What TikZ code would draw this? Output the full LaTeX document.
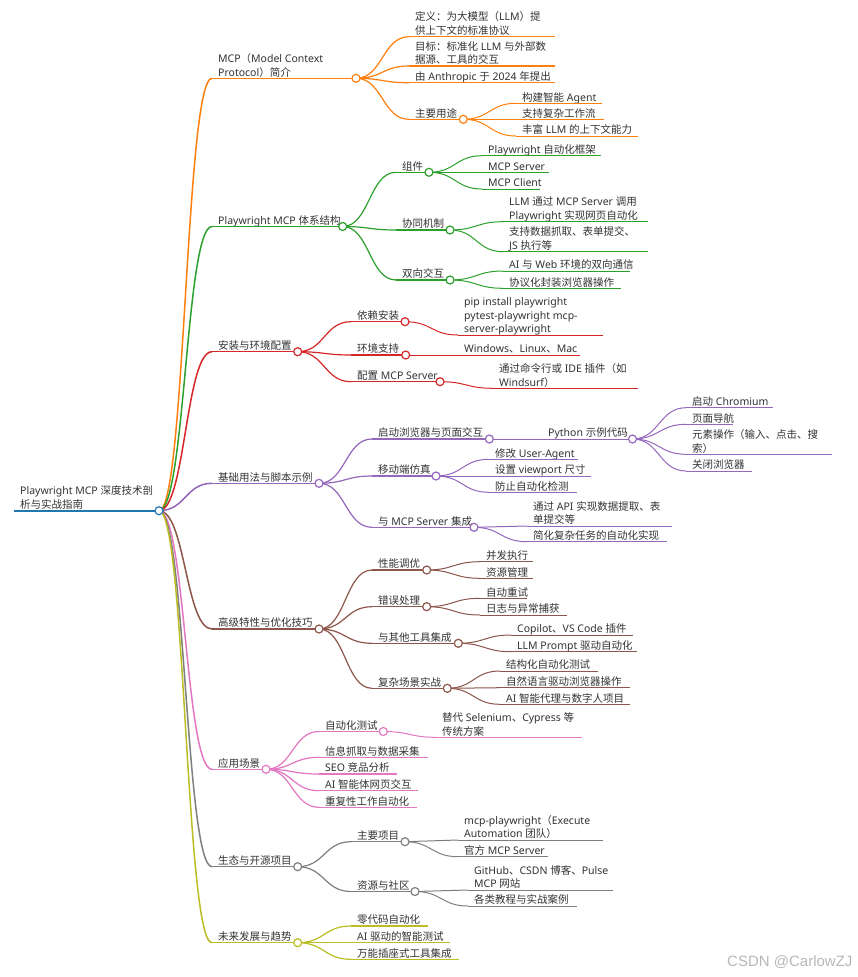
\documentclass[tikz,border=0pt]{standalone}
\usepackage{fontspec}
\setmainfont{Noto Sans}
\newfontfamily\cjkfont{Noto Sans CJK SC}
\newfontfamily\wmfont{Liberation Sans}
\XeTeXinterchartokenstate=1
\newXeTeXintercharclass\cjkcls
\newcount\cjkc
\cjkc="3000 \loop\XeTeXcharclass\cjkc=\cjkcls\advance\cjkc by 1 \ifnum\cjkc<"3040 \repeat
\cjkc="4E00 \loop\XeTeXcharclass\cjkc=\cjkcls\advance\cjkc by 1 \ifnum\cjkc<"A000 \repeat
\cjkc="FF00 \loop\XeTeXcharclass\cjkc=\cjkcls\advance\cjkc by 1 \ifnum\cjkc<"FFF0 \repeat
\XeTeXinterchartoks 0 \cjkcls = {\begingroup\cjkfont}
\XeTeXinterchartoks 4095 \cjkcls = {\begingroup\cjkfont}
\XeTeXinterchartoks \cjkcls 0 = {\endgroup}
\XeTeXinterchartoks \cjkcls 4095 = {\endgroup}
\usetikzlibrary{calc}
\definecolor{cB}{HTML}{1F77B4}
\definecolor{cO}{HTML}{FF7F0E}
\definecolor{cG}{HTML}{2CA02C}
\definecolor{cR}{HTML}{D62728}
\definecolor{cP}{HTML}{9467BD}
\definecolor{cN}{HTML}{8C564B}
\definecolor{cK}{HTML}{E377C2}
\definecolor{cY}{HTML}{7F7F7F}
\definecolor{cL}{HTML}{BCBD22}
\definecolor{tx}{HTML}{333333}
\definecolor{wm}{HTML}{B8B8B8}
\newcommand\mmf{\fontsize{10.5}{13.7}\selectfont}
\tikzset{
  txt/.style={anchor=south west, inner sep=0pt, align=left, text=tx, font=\mmf,
    execute at end node={\rule[-3.5pt]{0pt}{0pt}}},
  w0/.style={line width=1.8pt},
  w1/.style={line width=1.5pt},
  w2/.style={line width=1.2pt},
  w3/.style={line width=1.0pt},
  dot/.style={circle, inner sep=0pt, minimum size=8pt, fill=white, line width=1.2pt}
}
% #1 name #2 colour #3 x start #4 x end #5 y #6 width style #7 text
\newcommand\mm[7]{%
  \coordinate (#1-s) at (#3,#5);
  \coordinate (#1-e) at (#4,#5);
  \node[txt] (#1) at (#3+6,#5+1.5) {#7};
  \draw[#2,#6] (#1-s) -- (#1-e);}
% #1 colour #2 width style #3 parent #4 child
\newcommand\lnk[4]{%
  \draw[#1,#2] let \p1=(#3-e), \p2=(#4-s) in
    (\p1) .. controls ({0.5*\x1+0.5*\x2},\y1) and ({0.5*\x1+0.5*\x2},\y2) .. (\p2);}
\newcommand\dotc[2]{\node[dot,draw=#2] (#1-c) at (#1-e) {};}
\begin{document}
\begin{tikzpicture}[x=1pt,y=-1pt]
\fill[white] (0,0) rectangle (857,977);
\useasboundingbox (0,0) rectangle (857,977);
% ---------- nodes ----------
\mm{root}{cB}{14}{159}{510.7}{w0}{Playwright MCP 深度技术剖\\析与实战指南}
% MCP
\mm{a}{cO}{212}{356}{78.3}{w1}{MCP（Model Context\\Protocol）简介}
\mm{a1}{cO}{409}{555}{36.7}{w2}{定义：为大模型（LLM）提\\供上下文的标准协议}
\mm{a2}{cO}{409}{555}{66}{w2}{目标：标准化 LLM 与外部数\\据源、工具的交互}
\mm{a3}{cO}{409}{555}{82.7}{w2}{由 Anthropic 于 2024 年提出}
\mm{a4}{cO}{409}{463.3}{119.3}{w2}{主要用途}
\mm{a41}{cO}{516}{601.7}{103.3}{w3}{构建智能 Agent}
\mm{a42}{cO}{516}{604}{119.3}{w3}{支持复杂工作流}
\mm{a43}{cO}{516}{638.3}{136}{w3}{丰富 LLM 的上下文能力}
% Playwright MCP
\mm{b}{cG}{212}{342.7}{226.5}{w1}{Playwright MCP 体系结构}
\mm{b1}{cG}{396}{429}{172.3}{w2}{组件}
\mm{b11}{cG}{482}{601}{155.7}{w3}{Playwright 自动化框架}
\mm{b12}{cG}{482}{549}{172.3}{w3}{MCP Server}
\mm{b13}{cG}{482}{540}{189}{w3}{MCP Client}
\mm{b2}{cG}{396}{450}{230}{w2}{协同机制}
\mm{b21}{cG}{503}{648}{221.7}{w3}{LLM 通过 MCP Server 调用\\Playwright 实现网页自动化}
\mm{b22}{cG}{503}{648}{251.7}{w3}{支持数据抓取、表单提交、\\JS 执行等}
\mm{b3}{cG}{396}{450}{280}{w2}{双向交互}
\mm{b31}{cG}{503}{630}{271}{w3}{AI 与 Web 环境的双向通信}
\mm{b32}{cG}{503}{621}{288.3}{w3}{协议化封装浏览器操作}
% install
\mm{c}{cR}{212}{297.7}{351.7}{w1}{安装与环境配置}
\mm{c1}{cR}{351}{405}{321.7}{w2}{依赖安装}
\mm{c11}{cR}{458}{603}{335}{w3}{pip install playwright\\pytest-playwright mcp-\\server-playwright}
\mm{c2}{cR}{351}{405.7}{355}{w2}{环境支持}
\mm{c21}{cR}{458}{580}{355}{w3}{Windows、Linux、Mac}
\mm{c3}{cR}{351}{440}{381.7}{w2}{配置 MCP Server}
\mm{c31}{cR}{493}{638}{388.3}{w3}{通过命令行或 IDE 插件（如\\Windsurf）}
% basic usage
\mm{d}{cP}{212}{319}{483.3}{w1}{基础用法与脚本示例}
\mm{d1}{cP}{372}{489.3}{439}{w2}{启动浏览器与页面交互}
\mm{d11}{cP}{542}{632.5}{439}{w3}{Python 示例代码}
\mm{d111}{cP}{686}{773.3}{407.7}{w3}{启动 Chromium}
\mm{d112}{cP}{686}{732.7}{424.3}{w3}{页面导航}
\mm{d113}{cP}{686}{831.7}{454.3}{w3}{元素操作（输入、点击、搜\\索）}
\mm{d114}{cP}{686}{751.7}{471}{w3}{关闭浏览器}
\mm{d2}{cP}{372}{436}{476}{w2}{移动端仿真}
\mm{d21}{cP}{489}{577.7}{459.3}{w3}{修改 User-Agent}
\mm{d22}{cP}{489}{591}{476}{w3}{设置 viewport 尺寸}
\mm{d23}{cP}{489}{576.7}{492.3}{w3}{防止自动化检测}
\mm{d3}{cP}{372}{474}{527.3}{w2}{与 MCP Server 集成}
\mm{d31}{cP}{527}{672}{526}{w3}{通过 API 实现数据提取、表\\单提交等}
\mm{d32}{cP}{527}{667}{541.7}{w3}{简化复杂任务的自动化实现}
% advanced
\mm{e}{cN}{212}{319}{629}{w1}{高级特性与优化技巧}
\mm{e1}{cN}{372}{426.7}{570}{w2}{性能调优}
\mm{e11}{cN}{480}{533}{561.7}{w3}{并发执行}
\mm{e12}{cN}{480}{533}{578.3}{w3}{资源管理}
\mm{e2}{cN}{372}{426.7}{606.7}{w2}{错误处理}
\mm{e21}{cN}{480}{527}{598.3}{w3}{自动重试}
\mm{e22}{cN}{480}{567}{615}{w3}{日志与异常捕获}
\mm{e3}{cN}{372}{458.3}{643.3}{w2}{与其他工具集成}
\mm{e31}{cN}{511}{632.7}{635}{w3}{Copilot、VS Code 插件}
\mm{e32}{cN}{511}{636.7}{651.7}{w3}{LLM Prompt 驱动自动化}
\mm{e4}{cN}{372}{447.3}{688.3}{w2}{复杂场景实战}
\mm{e41}{cN}{500}{598}{671}{w3}{结构化自动化测试}
\mm{e42}{cN}{500}{630}{687.7}{w3}{自然语言驱动浏览器操作}
\mm{e43}{cN}{500}{630}{704.3}{w3}{AI 智能代理与数字人项目}
% scenarios
\mm{f}{cK}{212}{266}{769.3}{w1}{应用场景}
\mm{f1}{cK}{319}{383.3}{731.5}{w2}{自动化测试}
\mm{f11}{cK}{436}{581.7}{737.3}{w3}{替代 Selenium、Cypress 等\\传统方案}
\mm{f2}{cK}{319}{428.3}{757.3}{w2}{信息抓取与数据采集}
\mm{f3}{cK}{319}{396.7}{774}{w2}{SEO 竞品分析}
\mm{f4}{cK}{319}{418.3}{790.7}{w2}{AI 智能体网页交互}
\mm{f5}{cK}{319}{416.7}{807.3}{w2}{重复性工作自动化}
% ecosystem
\mm{g}{cY}{212}{297.7}{866.7}{w1}{生态与开源项目}
\mm{g1}{cY}{351}{405}{841.7}{w2}{主要项目}
\mm{g11}{cY}{458}{603.3}{840}{w3}{mcp-playwright（Execute\\Automation 团队）}
\mm{g12}{cY}{458}{548.3}{856.7}{w3}{官方 MCP Server}
\mm{g2}{cY}{351}{415}{891.5}{w2}{资源与社区}
\mm{g21}{cY}{468}{613.3}{890}{w3}{GitHub、CSDN 博客、Pulse\\MCP 网站}
\mm{g22}{cY}{468}{576.7}{906}{w3}{各类教程与实战案例}
% future
\mm{h}{cL}{212}{297.7}{942.7}{w1}{未来发展与趋势}
\mm{h1}{cL}{351}{428.3}{926}{w2}{零代码自动化}
\mm{h2}{cL}{351}{450}{942.7}{w2}{AI 驱动的智能测试}
\mm{h3}{cL}{351}{459.3}{959.3}{w2}{万能插座式工具集成}
% ---------- links ----------
\lnk{cO}{w1}{root}{a}\lnk{cG}{w1}{root}{b}\lnk{cR}{w1}{root}{c}\lnk{cP}{w1}{root}{d}
\lnk{cN}{w1}{root}{e}\lnk{cK}{w1}{root}{f}\lnk{cY}{w1}{root}{g}\lnk{cL}{w1}{root}{h}
\lnk{cO}{w2}{a}{a1}\lnk{cO}{w2}{a}{a2}\lnk{cO}{w2}{a}{a3}\lnk{cO}{w2}{a}{a4}
\lnk{cO}{w3}{a4}{a41}\lnk{cO}{w3}{a4}{a42}\lnk{cO}{w3}{a4}{a43}
\lnk{cG}{w2}{b}{b1}\lnk{cG}{w2}{b}{b2}\lnk{cG}{w2}{b}{b3}
\lnk{cG}{w3}{b1}{b11}\lnk{cG}{w3}{b1}{b12}\lnk{cG}{w3}{b1}{b13}
\lnk{cG}{w3}{b2}{b21}\lnk{cG}{w3}{b2}{b22}
\lnk{cG}{w3}{b3}{b31}\lnk{cG}{w3}{b3}{b32}
\lnk{cR}{w2}{c}{c1}\lnk{cR}{w2}{c}{c2}\lnk{cR}{w2}{c}{c3}
\lnk{cR}{w3}{c1}{c11}\lnk{cR}{w3}{c2}{c21}\lnk{cR}{w3}{c3}{c31}
\lnk{cP}{w2}{d}{d1}\lnk{cP}{w2}{d}{d2}\lnk{cP}{w2}{d}{d3}
\lnk{cP}{w3}{d1}{d11}
\lnk{cP}{w3}{d11}{d111}\lnk{cP}{w3}{d11}{d112}\lnk{cP}{w3}{d11}{d113}\lnk{cP}{w3}{d11}{d114}
\lnk{cP}{w3}{d2}{d21}\lnk{cP}{w3}{d2}{d22}\lnk{cP}{w3}{d2}{d23}
\lnk{cP}{w3}{d3}{d31}\lnk{cP}{w3}{d3}{d32}
\lnk{cN}{w2}{e}{e1}\lnk{cN}{w2}{e}{e2}\lnk{cN}{w2}{e}{e3}\lnk{cN}{w2}{e}{e4}
\lnk{cN}{w3}{e1}{e11}\lnk{cN}{w3}{e1}{e12}
\lnk{cN}{w3}{e2}{e21}\lnk{cN}{w3}{e2}{e22}
\lnk{cN}{w3}{e3}{e31}\lnk{cN}{w3}{e3}{e32}
\lnk{cN}{w3}{e4}{e41}\lnk{cN}{w3}{e4}{e42}\lnk{cN}{w3}{e4}{e43}
\lnk{cK}{w2}{f}{f1}\lnk{cK}{w2}{f}{f2}\lnk{cK}{w2}{f}{f3}\lnk{cK}{w2}{f}{f4}\lnk{cK}{w2}{f}{f5}
\lnk{cK}{w3}{f1}{f11}
\lnk{cY}{w2}{g}{g1}\lnk{cY}{w2}{g}{g2}
\lnk{cY}{w3}{g1}{g11}\lnk{cY}{w3}{g1}{g12}
\lnk{cY}{w3}{g2}{g21}\lnk{cY}{w3}{g2}{g22}
\lnk{cL}{w2}{h}{h1}\lnk{cL}{w2}{h}{h2}\lnk{cL}{w2}{h}{h3}
% ---------- circles ----------
\dotc{root}{cB}
\dotc{a}{cO}\dotc{a4}{cO}
\dotc{b}{cG}\dotc{b1}{cG}\dotc{b2}{cG}\dotc{b3}{cG}
\dotc{c}{cR}\dotc{c1}{cR}\dotc{c2}{cR}\dotc{c3}{cR}
\dotc{d}{cP}\dotc{d1}{cP}\dotc{d11}{cP}\dotc{d2}{cP}\dotc{d3}{cP}
\dotc{e}{cN}\dotc{e1}{cN}\dotc{e2}{cN}\dotc{e3}{cN}\dotc{e4}{cN}
\dotc{f}{cK}\dotc{f1}{cK}
\dotc{g}{cY}\dotc{g1}{cY}\dotc{g2}{cY}
\dotc{h}{cL}
% watermark
\node[anchor=west, inner sep=0pt, text=wm, font=\wmfont\fontsize{15}{15}\selectfont] (wmark) at (727,962.5) {CSDN @CarlowZJ};
\end{tikzpicture}
\end{document}
